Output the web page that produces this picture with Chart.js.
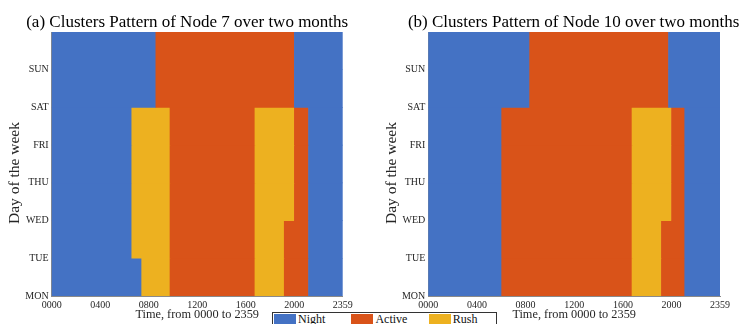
<!DOCTYPE html>
<html>
<head>
<meta charset="utf-8">
<script src="https://cdn.jsdelivr.net/npm/chart.js@4.4.1/dist/chart.umd.min.js"></script>
<style>
  html, body { margin: 0; padding: 0; background: #fff; width: 742px; height: 324px; overflow: hidden; position: relative; }
  canvas { position: absolute; top: 0; }
  #legend { position: absolute; left: 272px; top: 312px; width: 222px; height: 18px; border: 1px solid #333;
            background: #fff; font-family: 'Liberation Serif', serif; font-size: 12px; line-height: 13px;
            display: flex; padding-left: 1px; box-sizing: content-box; color: #111; overflow: hidden; }
  #legend .it { display: flex; flex: 0 0 77.4px; height: 100%; }
  #legend .sw { width: 22px; height: 100%; margin-top: 1px; }
  #legend .tx { margin-left: 2px; }
</style>
</head>
<body>
<canvas id="c7" width="374" height="324" style="left:0px"></canvas>
<canvas id="c10" width="368" height="324" style="left:374px"></canvas>
<div id="legend"></div>
<script>
// ---- data ----
const days = ['MON', 'TUE', 'WED', 'THU', 'FRI', 'SAT', 'SUN'];
const timeTicks = ['0000', '0400', '0800', '1200', '1600', '2000', '2359'];
const classes = ['Night', 'Active', 'Rush'];

// segment boundaries (minutes after midnight), one row per day MON..SUN
const node7Bounds = [
  [0, 445, 585, 1005, 1150, 1270, 1439],
  [0, 396, 585, 1005, 1150, 1270, 1439],
  [0, 396, 585, 1005, 1200, 1270, 1439],
  [0, 396, 585, 1005, 1200, 1270, 1439],
  [0, 396, 585, 1005, 1200, 1270, 1439],
  [0, 515, 1200, 1439],
  [0, 515, 1200, 1439]
];
const node7Classes = [
  ['Night', 'Rush', 'Active', 'Rush', 'Active', 'Night'],
  ['Night', 'Rush', 'Active', 'Rush', 'Active', 'Night'],
  ['Night', 'Rush', 'Active', 'Rush', 'Active', 'Night'],
  ['Night', 'Rush', 'Active', 'Rush', 'Active', 'Night'],
  ['Night', 'Rush', 'Active', 'Rush', 'Active', 'Night'],
  ['Night', 'Active', 'Night'],
  ['Night', 'Active', 'Night']
];
const node10Bounds = [
  [0, 362, 1005, 1150, 1265, 1439],
  [0, 362, 1005, 1150, 1265, 1439],
  [0, 362, 1005, 1200, 1265, 1439],
  [0, 362, 1005, 1200, 1265, 1439],
  [0, 362, 1005, 1200, 1265, 1439],
  [0, 500, 1185, 1439],
  [0, 500, 1185, 1439]
];
const node10Classes = [
  ['Night', 'Active', 'Rush', 'Active', 'Night'],
  ['Night', 'Active', 'Rush', 'Active', 'Night'],
  ['Night', 'Active', 'Rush', 'Active', 'Night'],
  ['Night', 'Active', 'Rush', 'Active', 'Night'],
  ['Night', 'Active', 'Rush', 'Active', 'Night'],
  ['Night', 'Active', 'Night'],
  ['Night', 'Active', 'Night']
];

// ---- styles ----
const classColors = { Night: '#4472C4', Active: '#D95319', Rush: '#EDB120' };
const SERIF = "'Liberation Serif', 'Times New Roman', serif";
const TEXT = '#262626';

function toMinutes(s) { return parseInt(s.slice(0, 2), 10) * 60 + parseInt(s.slice(2), 10); }
function fmtTime(m) {
  const h = Math.floor(m / 60), mm = Math.round(m % 60);
  return String(h).padStart(2, '0') + String(mm).padStart(2, '0');
}
const tickMinutes = timeTicks.map(toMinutes);

function buildDataset(bounds, cls) {
  const pts = [], colors = [];
  bounds.forEach((b, row) => {
    for (let k = 0; k < b.length - 1; k++) {
      pts.push({ y: row + 0.5, x: [b[k], b[k + 1]] });
      colors.push(classColors[cls[row][k]]);
    }
  });
  return {
    data: pts, backgroundColor: colors, borderWidth: 0,
    barPercentage: 1, categoryPercentage: 1
  };
}

// panel title and y-axis label drawn around the plot area
const panelText = {
  id: 'panelText',
  afterDraw(chart, args, opts) {
    const { ctx, chartArea } = chart;
    ctx.save();
    ctx.font = '17px ' + SERIF;
    ctx.fillStyle = '#000';
    ctx.textAlign = 'center';
    ctx.textBaseline = 'alphabetic';
    ctx.fillText(opts.text, (chartArea.left + chartArea.right) / 2 + opts.dx, opts.baseline);
    ctx.restore();

    ctx.save();
    ctx.font = '15.5px ' + SERIF;
    ctx.fillStyle = TEXT;
    ctx.textAlign = 'center';
    ctx.textBaseline = 'middle';
    ctx.translate(opts.yTitleX, (chartArea.top + chartArea.bottom) / 2 + opts.yTitleDy);
    ctx.rotate(-Math.PI / 2);
    ctx.fillText(opts.yTitle, 0, 0);
    ctx.restore();
  }
};

function makeChart(id, titleText, bounds, cls, g) {
  return new Chart(document.getElementById(id), {
    type: 'bar',
    data: { datasets: [buildDataset(bounds, cls)] },
    plugins: [panelText],
    options: {
      indexAxis: 'y',
      responsive: false,
      animation: false,
      devicePixelRatio: 1,
      events: [],
      layout: { padding: { left: 0, right: g.padRight, top: 32, bottom: 0 } },
      plugins: {
        legend: { display: false },
        tooltip: { enabled: false },
        title: { display: false },
        panelText: { text: titleText, dx: g.titleDx, baseline: 27.3,
                     yTitle: 'Day of the week', yTitleX: g.yTitleX, yTitleDy: 9 }
      },
      scales: {
        x: {
          type: 'linear', min: 0, max: tickMinutes[tickMinutes.length - 1],
          afterBuildTicks: s => { s.ticks = tickMinutes.map(v => ({ value: v })); },
          afterFit: s => { s.height = 28; },
          ticks: { autoSkip: false, maxRotation: 0, padding: 3.5, color: TEXT,
                   font: { family: SERIF, size: 10 }, callback: v => fmtTime(v) },
          grid: { display: false, drawTicks: false },
          border: { display: true, color: '#8a8a8a', width: 1 },
          title: { display: true, text: 'Time, from 0000 to 2359', color: TEXT,
                   font: { family: SERIF, size: 12.3 }, padding: { top: 0, bottom: 1.5 } }
        },
        y: {
          type: 'linear', min: 0, max: days.length, offset: false,
          afterBuildTicks: s => { s.ticks = days.map((d, i) => ({ value: i })).concat([{ value: days.length }]); },
          afterFit: s => { s.width = g.yWidth; },
          ticks: { autoSkip: false, padding: 3, color: TEXT,
                   font: { family: SERIF, size: 10 }, callback: v => days[v] || '' },
          grid: { display: false, drawTicks: false },
          border: { display: true, color: '#8a8a8a', width: 1 },
          title: { display: false }
        }
      }
    }
  });
}

makeChart('c7', '(a) Clusters Pattern of Node 7 over two months', node7Bounds, node7Classes,
          { padRight: 31.3, yWidth: 51.7, yTitleX: 15, titleDx: -10 });
makeChart('c10', '(b) Clusters Pattern of Node 10 over two months', node10Bounds, node10Classes,
          { padRight: 22, yWidth: 54.3, yTitleX: 17.7, titleDx: -0.5 });

// shared legend
const legend = document.getElementById('legend');
classes.forEach(c => {
  const it = document.createElement('span'); it.className = 'it';
  const sw = document.createElement('span'); sw.className = 'sw'; sw.style.background = classColors[c];
  const tx = document.createElement('span'); tx.className = 'tx'; tx.textContent = c;
  it.appendChild(sw); it.appendChild(tx); legend.appendChild(it);
});
</script>
</body>
</html>
